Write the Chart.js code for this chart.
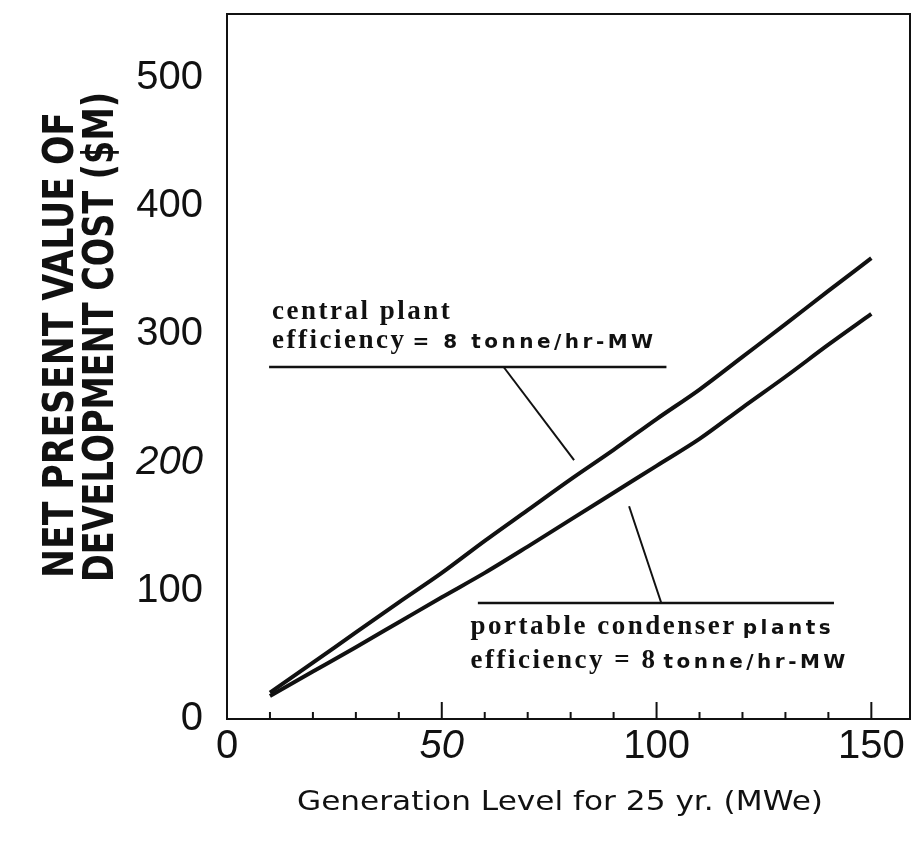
<!DOCTYPE html>
<html>
<head>
<meta charset="utf-8">
<script src="https://cdn.jsdelivr.net/npm/chart.js@4.4.1/dist/chart.umd.min.js"></script>
<style>
  html, body { margin: 0; padding: 0; background: #fff; }
  #wrap { width: 913px; height: 844px; }
</style>
</head>
<body>
<div id="wrap"><canvas id="costChart" width="913" height="844"></canvas></div>
<script>
// generation level for 25 yr (MWe)
const generation = [10, 20, 30, 40, 50, 60, 70, 80, 90, 100, 110, 120, 130, 140, 150];
// net present value of development cost ($M)
const centralPlant = [20.5, 44, 67.5, 91, 114, 139, 163, 187, 210, 234, 257, 282.5, 308, 334, 359.5];
const portablePlants = [18, 37, 56, 75.5, 95, 114, 134.5, 155.5, 176.5, 197.5, 218.5, 243, 267, 292, 316];

const xTicks = [0, 50, 100, 150];
const yTicks = [0, 100, 200, 300, 400, 500];
const xMinorTicks = [10, 20, 30, 40, 50, 60, 70, 80, 90, 100, 110, 120, 130, 140, 150];
const italicTicks = [50, 200];

const ink = '#111';

// callouts, in data units
const callouts = [
  {
    line: [9.8, 102.3, 274.6],
    leader: [64.4, 274.6, 80.8, 202],
    textX: 10.5,
    rows: [
      [312, [['central plant', 'serif']]],
      [289.4, [['efficiency', 'serif'], ['= 8 tonne/hr-MW', 'sans']]]
    ]
  },
  {
    line: [58.4, 141.3, 90.5],
    leader: [93.6, 166, 101.1, 90.5],
    textX: 56.7,
    rows: [
      [66.3, [['portable condenser', 'serif'], ['plants', 'sans']]],
      [39.8, [['efficiency = 8', 'serif'], ['tonne/hr-MW', 'sans']]]
    ]
  }
];

const fonts = {
  serif: { font: 'bold 27px "Liberation Serif"', spacing: '2.5px' },
  sans: { font: 'bold 20px "DejaVu Sans"', spacing: '3.5px' }
};

function fitText(ctx, text, cx, cy, width, font, rotate) {
  ctx.save();
  ctx.font = font;
  ctx.textAlign = 'center';
  ctx.textBaseline = 'middle';
  let w = ctx.measureText(text).width;
  ctx.translate(cx, cy);
  if (rotate) ctx.rotate(-Math.PI / 2);
  ctx.scale(width / w, 1);
  ctx.fillText(text, 0, 0);
  ctx.restore();
}

const decor = {
  id: 'decor',
  afterDatasetsDraw(chart) {
    const { ctx, chartArea: a, scales: { x, y } } = chart;
    ctx.save();
    ctx.strokeStyle = ink;
    ctx.fillStyle = ink;

    // frame
    ctx.lineWidth = 2;
    ctx.strokeRect(a.left, a.top, a.right - a.left, a.bottom - a.top);

    // tick marks pointing into the plot
    xMinorTicks.forEach(v => {
      let px = x.getPixelForValue(v);
      let len = v % 50 === 0 ? 17 : 7;
      ctx.beginPath();
      ctx.moveTo(px, a.bottom);
      ctx.lineTo(px, a.bottom - len);
      ctx.stroke();
    });

    // callouts
    callouts.forEach(c => {
      ctx.lineWidth = 2.5;
      ctx.beginPath();
      ctx.moveTo(x.getPixelForValue(c.line[0]), y.getPixelForValue(c.line[2]));
      ctx.lineTo(x.getPixelForValue(c.line[1]), y.getPixelForValue(c.line[2]));
      ctx.stroke();
      ctx.lineWidth = 2;
      ctx.beginPath();
      ctx.moveTo(x.getPixelForValue(c.leader[0]), y.getPixelForValue(c.leader[1]));
      ctx.lineTo(x.getPixelForValue(c.leader[2]), y.getPixelForValue(c.leader[3]));
      ctx.stroke();

      ctx.textAlign = 'left';
      ctx.textBaseline = 'alphabetic';
      c.rows.forEach(([yv, parts]) => {
        let px = x.getPixelForValue(c.textX);
        let py = y.getPixelForValue(yv);
        parts.forEach(([t, kind]) => {
          ctx.font = fonts[kind].font;
          ctx.letterSpacing = fonts[kind].spacing;
          ctx.fillText(t, px, py);
          px += ctx.measureText(t).width + 6;
        });
      });
    });
    ctx.letterSpacing = '0px';

    // axis titles
    fitText(ctx, 'Generation Level for 25 yr. (MWe)', 560, 803, 526, '27px "DejaVu Sans"', false);
    fitText(ctx, 'NET PRESENT VALUE OF', 62, 345, 466, 'bold 42px "DejaVu Sans Condensed", "DejaVu Sans"', true);
    fitText(ctx, 'DEVELOPMENT COST ($M)', 102, 337, 490, 'bold 42px "DejaVu Sans Condensed", "DejaVu Sans"', true);
    ctx.restore();
  }
};

const tickFont = ctx => ({
  family: '"Liberation Sans", Arial, sans-serif',
  size: 40,
  style: italicTicks.includes(ctx.tick && ctx.tick.value) ? 'italic' : 'normal'
});

const lineStyle = {
  borderColor: ink,
  borderWidth: 4,
  pointRadius: 0,
  cubicInterpolationMode: 'monotone',
  fill: false
};

new Chart(document.getElementById('costChart'), {
  type: 'line',
  data: {
    labels: generation,
    datasets: [
      { label: 'central plant', data: generation.map((g, i) => ({ x: g, y: centralPlant[i] })), ...lineStyle },
      { label: 'portable condenser plants', data: generation.map((g, i) => ({ x: g, y: portablePlants[i] })), ...lineStyle }
    ]
  },
  options: {
    responsive: false,
    animation: false,
    devicePixelRatio: 1,
    layout: { padding: { top: 14, right: 3, left: 0, bottom: 0 } },
    plugins: { legend: { display: false }, tooltip: { enabled: false } },
    scales: {
      x: {
        type: 'linear',
        min: 0,
        max: 159,
        grid: { display: false },
        border: { display: false },
        afterBuildTicks: s => { s.ticks = xTicks.map(v => ({ value: v })); },
        afterFit: s => { s.height = 125; s.paddingLeft = 0; s.paddingRight = 0; },
        ticks: { font: tickFont, color: ink, padding: -4, maxRotation: 0, autoSkip: false }
      },
      y: {
        min: 0,
        max: 550,
        grid: { display: false },
        border: { display: false },
        afterBuildTicks: s => { s.ticks = yTicks.map(v => ({ value: v })); },
        afterFit: s => { s.width = 227; s.paddingTop = 0; s.paddingBottom = 0; },
        ticks: { font: tickFont, color: ink, padding: 16, autoSkip: false }
      }
    }
  },
  plugins: [decor]
});
</script>
</body>
</html>
